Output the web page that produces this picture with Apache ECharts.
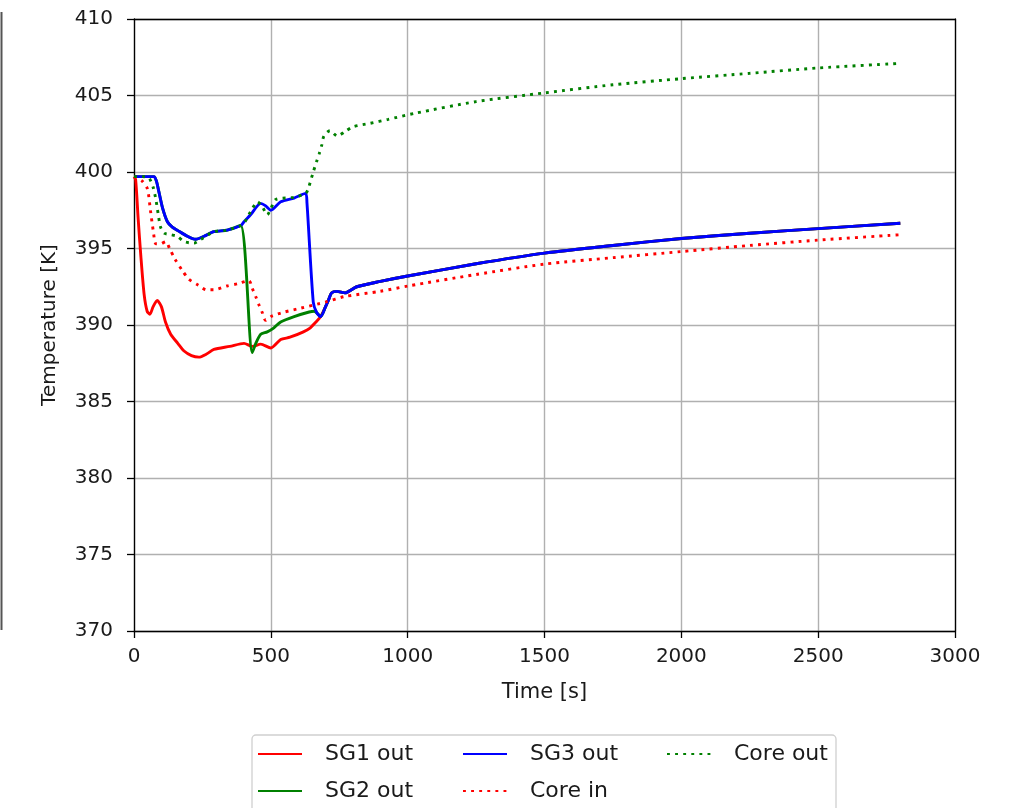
<!DOCTYPE html>
<html>
<head>
<meta charset="utf-8">
<script src="https://cdn.jsdelivr.net/npm/echarts@6/dist/echarts.min.js"></script>
<style>
  html, body { margin: 0; padding: 0; background: #fff; }
  #main { width: 1026px; height: 808px; }
</style>
</head>
<body>
<div id="main"></div>
<script>
// common tail of the three SG outlet curves (they overlap after ~700 s)
const tailTime = [700, 710, 722, 741, 771, 814, 900, 1000, 1250, 1500, 1750, 2000, 2250, 2500, 2800]
const tailTemp = [391.2, 391.6, 392.1, 392.2, 392.1, 392.5, 392.85, 393.2, 394.0, 394.7, 395.2, 395.65, 396.0, 396.3, 396.65]

const sg1Time = [0, 6, 15, 25, 37, 48, 58, 70, 85, 100, 115, 134, 160, 183, 210, 237, 265, 292, 350, 402, 432, 463, 500, 536, 570, 619, 643, 665, 682]
const sg1Temp = [399.7, 399.5, 397.0, 394.5, 392.0, 390.9, 390.7, 391.2, 391.6, 391.2, 390.2, 389.4, 388.8, 388.3, 388.0, 387.9, 388.1, 388.4, 388.6, 388.8, 388.6, 388.75, 388.5, 389.05, 389.2, 389.55, 389.8, 390.2, 390.55]

const sg2Time = [0, 40, 73, 82, 91, 105, 122, 140, 158, 195, 225, 256, 292, 341, 390, 432, 445, 463, 487, 510, 536, 585, 640, 658, 676, 682]
const sg2Temp = [399.7, 399.7, 399.7, 399.4, 398.7, 397.6, 396.75, 396.4, 396.2, 395.8, 395.6, 395.8, 396.1, 396.2, 396.5, 388.2, 388.8, 389.4, 389.55, 389.8, 390.2, 390.55, 390.85, 390.9, 390.65, 390.55]

const sg3Time = [0, 40, 73, 82, 91, 105, 122, 140, 158, 195, 225, 256, 292, 341, 390, 402, 426, 463, 480, 500, 536, 585, 627, 632, 655, 668, 682]
const sg3Temp = [399.7, 399.7, 399.7, 399.4, 398.7, 397.6, 396.75, 396.4, 396.2, 395.8, 395.6, 395.8, 396.1, 396.2, 396.5, 396.75, 397.2, 397.95, 397.8, 397.5, 398.05, 398.3, 398.6, 398.0, 391.5, 390.8, 390.55]

const coreInTime = [0, 30, 49, 60, 70, 80, 95, 116, 130, 150, 175, 200, 235, 265, 292, 340, 380, 420, 432, 445, 457, 469, 481, 505, 550, 609, 700, 767, 899, 1002, 1250, 1500, 1750, 2000, 2250, 2500, 2800]
const coreInTemp = [399.7, 399.4, 398.9, 397.5, 396.2, 395.3, 395.3, 395.45, 395.0, 394.3, 393.6, 393.0, 392.6, 392.3, 392.3, 392.55, 392.7, 392.9, 392.4, 391.85, 391.3, 390.8, 390.3, 390.6, 390.85, 391.1, 391.5, 391.85, 392.2, 392.55, 393.3, 393.98, 394.4, 394.8, 395.2, 395.55, 395.9]

const coreOutTime = [0, 30, 55, 70, 80, 88, 97, 110, 135, 158, 183, 219, 244, 292, 341, 390, 402, 426, 451, 470, 487, 500, 518, 585, 627, 637, 655, 667, 677, 686, 694, 716, 743, 771, 801, 862, 929, 1027, 1250, 1500, 1750, 2000, 2250, 2500, 2800]
const coreOutTemp = [399.7, 399.7, 399.6, 399.0, 398.2, 397.3, 396.4, 396.0, 395.9, 395.8, 395.45, 395.35, 395.6, 396.1, 396.2, 396.5, 396.65, 397.4, 398.05, 397.7, 397.2, 397.6, 398.2, 398.35, 398.6, 398.93, 400.0, 400.67, 401.2, 401.76, 402.35, 402.7, 402.35, 402.64, 402.96, 403.18, 403.44, 403.84, 404.6, 405.17, 405.7, 406.1, 406.45, 406.8, 407.1]

const xTicks = [0, 500, 1000, 1500, 2000, 2500, 3000]
const yTicks = [370, 375, 380, 385, 390, 395, 400, 405, 410]

const FONT = 'DejaVu Sans'
const LW = 2.9

function pairs(ts, vs) {
    return ts.map((t, i) => [t, vs[i]])
}

const chart = echarts.init(document.getElementById('main'), null, { renderer: 'canvas' })

function lineSeries(name, color, data, dotted) {
    return {
        name: name,
        type: 'line',
        data: data,
        symbol: 'none',
        smooth: 0.25,
        lineStyle: {
            color: color,
            width: LW,
            type: dotted ? [LW, 5.2] : 'solid',
            cap: 'butt'
        },
        itemStyle: { color: color },
        animation: false
    }
}

const legendBase = {
    orient: 'vertical',
    top: 743,
    padding: 0,
    itemWidth: 44,
    itemHeight: 14,
    itemGap: 15,
    itemStyle: { opacity: 0 },
    textStyle: {
        fontFamily: FONT,
        fontSize: 22,
        color: '#1a1a1a',
        lineHeight: 22,
        padding: [0, 0, 0, 18]
    }
}

// plain frame axes (top / right spines)
const frameAxis = {
    type: 'value',
    axisLine: { show: true, onZero: false, lineStyle: { color: '#000', width: 1.3 } },
    axisTick: { show: false },
    axisLabel: { show: false },
    splitLine: { show: false }
}

const option = {
    backgroundColor: '#fff',
    animation: false,
    grid: {
        left: 134,
        right: 71,
        top: 19,
        bottom: 177
    },
    legend: [
        Object.assign({}, legendBase, { left: 257, data: ['SG1 out', 'SG2 out'] }),
        Object.assign({}, legendBase, { left: 462, data: ['SG3 out', 'Core in'] }),
        Object.assign({}, legendBase, { left: 666, data: ['Core out'] })
    ],
    xAxis: [{
        type: 'value',
        min: xTicks[0],
        max: xTicks[xTicks.length - 1],
        interval: 500,
        name: 'Time [s]',
        nameLocation: 'middle',
        nameGap: 51,
        nameTextStyle: { fontFamily: FONT, fontSize: 21, color: '#1a1a1a' },
        axisLine: { onZero: false, lineStyle: { color: '#000', width: 1.3 } },
        axisTick: { show: true, length: 7, lineStyle: { color: '#000', width: 1.3 } },
        axisLabel: {
            fontFamily: FONT, fontSize: 20, color: '#1a1a1a', margin: 16,
            formatter: v => String(v)
        },
        splitLine: { show: true, lineStyle: { color: '#b0b0b0', width: 1.4 } }
    }, Object.assign({}, frameAxis, { position: 'top', min: 0, max: 3000 })],
    yAxis: [{
        type: 'value',
        min: yTicks[0],
        max: yTicks[yTicks.length - 1],
        interval: 5,
        name: 'Temperature [K]',
        nameLocation: 'middle',
        nameGap: 74,
        nameRotate: 90,
        nameTextStyle: { fontFamily: FONT, fontSize: 20, color: '#1a1a1a' },
        axisLine: { show: true, onZero: false, lineStyle: { color: '#000', width: 1.3 } },
        axisTick: { show: true, length: 7, lineStyle: { color: '#000', width: 1.3 } },
        axisLabel: { fontFamily: FONT, fontSize: 20, color: '#1a1a1a', margin: 21 },
        splitLine: { show: true, lineStyle: { color: '#b0b0b0', width: 1.4 } }
    }, Object.assign({}, frameAxis, { position: 'right', min: 370, max: 410 })],
    graphic: [
        // legend frame (cut off at the bottom in the reference)
        {
            type: 'rect',
            shape: { x: 252, y: 735, width: 584, height: 90, r: 4 },
            style: { fill: '#fff', stroke: '#d0d0d0', lineWidth: 1.3 },
            z: -1
        },
        // border of a neighbouring panel at the very left edge
        {
            type: 'line',
            shape: { x1: 1.5, y1: 12, x2: 1.5, y2: 630 },
            style: { stroke: '#555', lineWidth: 2 }
        }
    ],
    series: [
        lineSeries('SG1 out', '#ff0000', pairs(sg1Time.concat(tailTime), sg1Temp.concat(tailTemp)), false),
        lineSeries('SG2 out', '#008000', pairs(sg2Time.concat(tailTime), sg2Temp.concat(tailTemp)), false),
        lineSeries('SG3 out', '#0000ff', pairs(sg3Time.concat(tailTime), sg3Temp.concat(tailTemp)), false),
        lineSeries('Core in', '#ff0000', pairs(coreInTime, coreInTemp), true),
        lineSeries('Core out', '#008000', pairs(coreOutTime, coreOutTemp), true)
    ]
}

chart.setOption(option)
</script>
</body>
</html>
